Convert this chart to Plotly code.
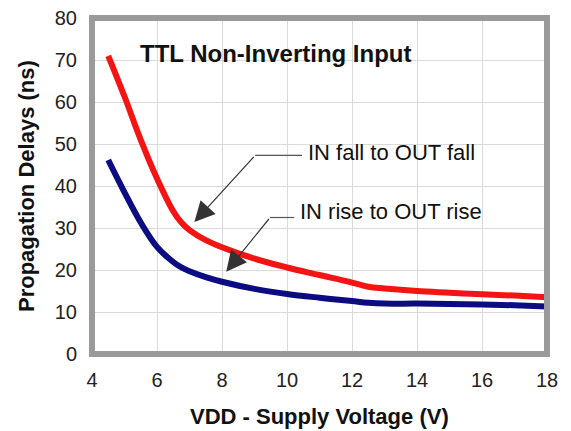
import plotly.graph_objects as go

# Data
vdd = [4.5, 5.0, 5.5, 6.0, 6.5, 6.75, 7.0, 7.5, 8.0, 9.0, 10.0, 11.0, 12.0, 12.5, 13.0, 14.0, 15.0, 16.0, 17.0, 18.0]
fall_delay = [71.0, 61.3, 51.0, 41.8, 34.0, 31.3, 29.5, 27.1, 25.4, 22.7, 20.6, 18.8, 17.0, 16.0, 15.6, 15.0, 14.6, 14.2, 13.9, 13.5]
rise_delay = [46.2, 38.5, 31.3, 25.5, 21.9, 20.6, 19.7, 18.3, 17.2, 15.5, 14.3, 13.4, 12.6, 12.2, 12.0, 12.0, 11.9, 11.8, 11.6, 11.3]

x_ticks = [4, 6, 8, 10, 12, 14, 16, 18]
y_ticks = [0, 10, 20, 30, 40, 50, 60, 70, 80]

title_text = "TTL Non-Inverting Input"
fall_label = "IN fall to OUT fall"
rise_label = "IN rise to OUT rise"
x_title = "VDD - Supply Voltage (V)"
y_title = "Propagation Delays (ns)"

FONT = "Liberation Sans, Arial, sans-serif"

fig = go.Figure()
fig.add_trace(go.Scatter(x=vdd, y=fall_delay, mode="lines",
                         line=dict(color="#f41414", width=6, shape="spline", smoothing=1.0),
                         name=fall_label, showlegend=False))
fig.add_trace(go.Scatter(x=vdd, y=rise_delay, mode="lines",
                         line=dict(color="#0c0c82", width=6, shape="spline", smoothing=1.0),
                         name=rise_label, showlegend=False))

# Title inside plot
fig.add_annotation(x=5.40, y=71.5, xref="x", yref="y", text="<b>" + title_text + "</b>",
                   showarrow=False, xanchor="left", yanchor="middle",
                   font=dict(family=FONT, size=24, color="#111111"))

# Callout labels
fig.add_annotation(x=10.59, y=48.0, xref="x", yref="y", text=fall_label, showarrow=False,
                   xanchor="left", yanchor="middle", font=dict(family=FONT, size=22, color="#111111"))
fig.add_annotation(x=10.34, y=33.9, xref="x", yref="y", text=rise_label, showarrow=False,
                   xanchor="left", yanchor="middle", font=dict(family=FONT, size=22, color="#111111"))

# Callout leaders: horizontal segments
fig.add_shape(type="line", xref="x", yref="y", x0=9.02, y0=47.3, x1=10.46, y1=47.3,
              line=dict(color="#555555", width=1.2))
fig.add_shape(type="line", xref="x", yref="y", x0=9.48, y0=32.5, x1=10.22, y1=32.5,
              line=dict(color="#555555", width=1.2))
# Callout leaders: diagonal arrows
fig.add_annotation(x=7.15, y=31.4, xref="x", yref="y", ax=9.02, ay=47.3, axref="x", ayref="y",
                   text="", showarrow=True, arrowhead=2, arrowsize=3.4, arrowwidth=1.2,
                   arrowcolor="#333333", standoff=0, startstandoff=0)
fig.add_annotation(x=8.13, y=19.6, xref="x", yref="y", ax=9.48, ay=32.5, axref="x", ayref="y",
                   text="", showarrow=True, arrowhead=2, arrowsize=3.4, arrowwidth=1.2,
                   arrowcolor="#333333", standoff=0, startstandoff=0)

# Axis titles
fig.add_annotation(x=-0.145, y=0.5, xref="paper", yref="paper", text="<b>" + y_title + "</b>",
                   showarrow=False, textangle=-90, xanchor="center", yanchor="middle",
                   font=dict(family=FONT, size=22, color="#111111"))
fig.add_annotation(x=0.5, y=-0.185, xref="paper", yref="paper", text="<b>" + x_title + "</b>",
                   showarrow=False, xanchor="center", yanchor="middle",
                   font=dict(family=FONT, size=22, color="#111111"))

# Frame
fig.add_shape(type="rect", xref="paper", yref="paper", x0=0, y0=0, x1=1, y1=1,
              line=dict(color="#9a9a9a", width=6), layer="above")

# The page body has an 8px default margin, so the figure is 8px smaller and its margins shifted
fig.update_layout(
    width=563, height=423,
    margin=dict(l=84, r=24, t=10, b=77, autoexpand=False),
    paper_bgcolor="white", plot_bgcolor="white",
    font=dict(family=FONT, color="#222222"),
)
fig.update_xaxes(range=[4, 18], tickvals=x_ticks, ticktext=[str(v) for v in x_ticks],
                 showgrid=True, gridcolor="#dadada", gridwidth=1, zeroline=False, automargin=False,
                 ticks="", ticklabelstandoff=12, ticklabeloverflow="allow",
                 tickfont=dict(size=20, family=FONT, color="#222222"))
fig.update_yaxes(range=[0, 80], tickvals=y_ticks, ticktext=[str(v) for v in y_ticks],
                 showgrid=True, gridcolor="#dadada", gridwidth=1, zeroline=False, automargin=False,
                 ticks="", ticklabelstandoff=14, ticklabeloverflow="allow",
                 tickfont=dict(size=20, family=FONT, color="#222222"))

fig.write_html("out.html")
